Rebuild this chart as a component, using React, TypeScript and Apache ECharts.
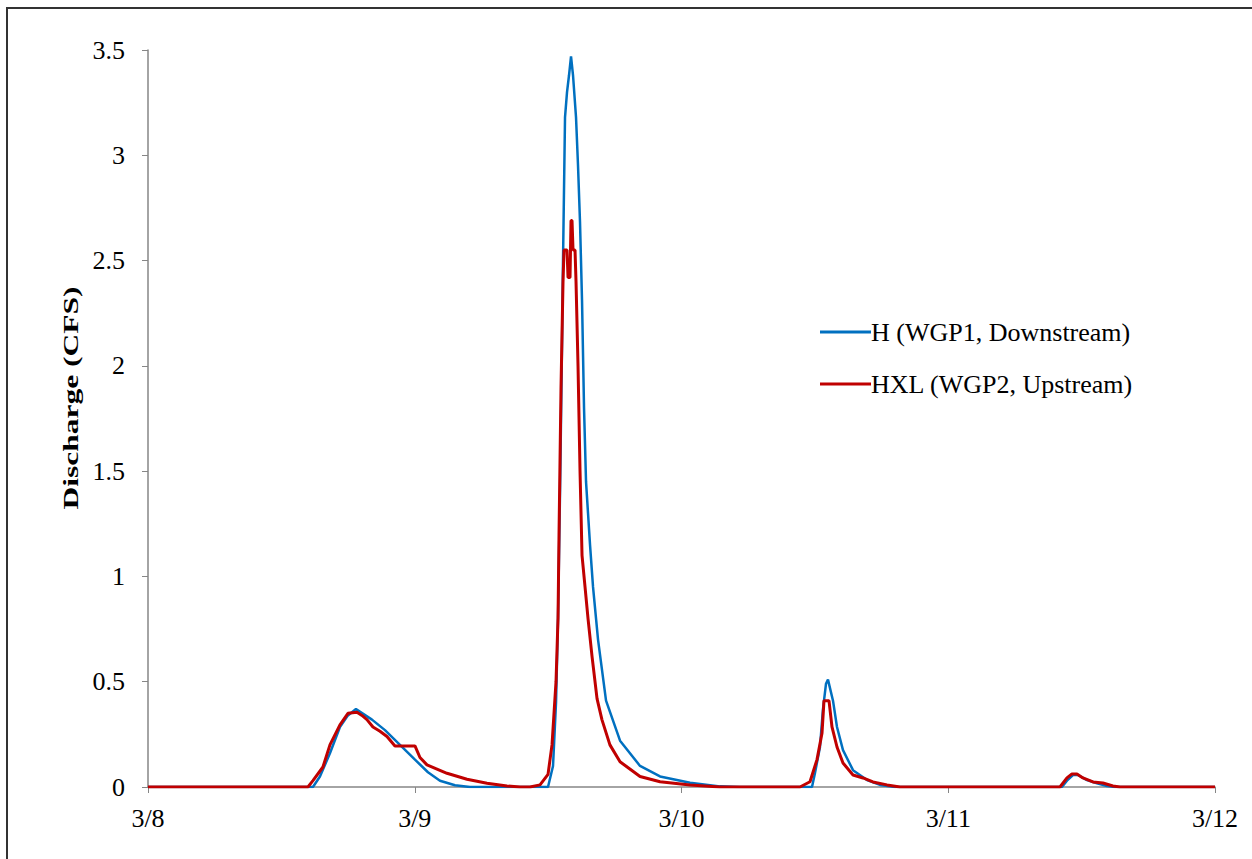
import React, { useEffect, useRef } from "react";
import * as echarts from "echarts";

// hours since 3/8 00:00
const X_TICK_LABELS = ["3/8", "3/9", "3/10", "3/11", "3/12"];
const SERIES_NAMES = ["H (WGP1, Downstream)", "HXL (WGP2, Upstream)"];
const Y_TITLE = "Discharge (CFS)";

const H_TIME = [0, 14.84, 15.47, 16.37, 17.27, 17.99, 18.71, 20.15, 21.32, 22.67, 24.02, 25.19, 26.27, 27.62, 28.97, 35.99, 36.44, 36.71, 36.89, 37.07, 37.25, 37.34, 37.52, 37.7, 37.88, 38.06, 38.24, 38.51, 38.69, 38.87, 39.05, 39.23, 39.41, 39.59, 39.77, 40.04, 40.49, 41.21, 42.47, 44.27, 46.07, 48.77, 51.47, 53.26, 59.74, 60.01, 60.46, 60.73, 61.0, 61.18, 61.63, 61.99, 62.53, 63.43, 64.69, 65.86, 67.21, 82.23, 82.68, 83.22, 83.67, 84.48, 85.38, 86.28, 87.0, 96];
const H_VALUE = [0, 0, 0.05, 0.16, 0.285, 0.34, 0.37, 0.32, 0.27, 0.2, 0.13, 0.07, 0.03, 0.008, 0, 0, 0.1, 0.4, 0.8, 1.4, 2.1, 2.5, 3.18, 3.3, 3.38, 3.47, 3.38, 3.18, 2.95, 2.68, 2.31, 1.8, 1.45, 1.3, 1.15, 0.95, 0.7, 0.41, 0.22, 0.1, 0.05, 0.02, 0.003, 0, 0, 0.067, 0.19, 0.37, 0.49, 0.51, 0.41, 0.285, 0.175, 0.08, 0.033, 0.01, 0, 0, 0.03, 0.057, 0.057, 0.033, 0.018, 0.005, 0, 0];

const HXL_TIME = [0, 14.39, 14.84, 15.74, 16.37, 17.27, 17.99, 18.8, 19.25, 19.7, 20.24, 20.87, 21.5, 22.22, 24.02, 24.47, 25.1, 26.9, 28.7, 30.5, 32.3, 33.47, 34.37, 35.27, 35.99, 36.35, 36.71, 36.89, 36.98, 37.16, 37.34, 37.43, 37.7, 37.79, 37.97, 38.06, 38.15, 38.24, 38.42, 38.51, 38.69, 38.87, 39.05, 39.32, 39.59, 39.95, 40.4, 40.84, 41.56, 42.47, 44.27, 46.07, 48.77, 51.47, 58.66, 59.56, 60.19, 60.64, 60.82, 61.27, 61.54, 61.99, 62.53, 63.43, 64.33, 65.23, 66.49, 67.66, 82.05, 82.68, 83.13, 83.58, 84.12, 85.02, 85.92, 86.82, 87.45, 96];
const HXL_VALUE = [0, 0, 0.03, 0.095, 0.2, 0.295, 0.35, 0.355, 0.34, 0.32, 0.285, 0.265, 0.24, 0.195, 0.195, 0.14, 0.105, 0.065, 0.037, 0.018, 0.005, 0, 0, 0.01, 0.06, 0.2, 0.5, 0.8, 1.2, 1.9, 2.4, 2.55, 2.55, 2.42, 2.42, 2.69, 2.69, 2.55, 2.55, 2.4, 2.0, 1.5, 1.1, 0.95, 0.8, 0.62, 0.42, 0.32, 0.2, 0.12, 0.05, 0.025, 0.01, 0, 0, 0.025, 0.13, 0.255, 0.41, 0.41, 0.285, 0.19, 0.114, 0.057, 0.043, 0.024, 0.01, 0, 0, 0.043, 0.062, 0.062, 0.043, 0.024, 0.019, 0.005, 0, 0];

const zip = (t: number[], v: number[]) => t.map((x, i) => [x, v[i]]);

export default function App() {
  const ref = useRef<HTMLDivElement>(null);
  useEffect(() => {
    if (!ref.current) return;
    const chart = echarts.init(ref.current, undefined, { renderer: "svg" });
    const font = "'Liberation Serif', 'Times New Roman', serif";
    chart.setOption({
      animation: false,
      backgroundColor: "#ffffff",
      textStyle: { fontFamily: font },
      grid: { left: 148, right: 37, top: 50, bottom: 72, containLabel: false },
      legend: {
        orient: "vertical",
        left: 815,
        top: 314,
        itemGap: 26,
        itemWidth: 51,
        itemHeight: 3,
        icon: "rect",
        textStyle: { fontFamily: font, fontSize: 26, color: "#000", padding: [0, 0, 0, -5] },
        data: SERIES_NAMES,
      },
      xAxis: {
        type: "value",
        min: 0,
        max: 96,
        interval: 24,
        axisLine: { show: true, lineStyle: { color: "#868686", width: 1.5 } },
        axisTick: { show: true, length: 6, lineStyle: { color: "#868686" } },
        splitLine: { show: false },
        axisLabel: {
          fontFamily: font,
          fontSize: 26,
          color: "#000",
          margin: 18,
          formatter: (v: number) => X_TICK_LABELS[Math.round(v / 24)] ?? "",
        },
      },
      yAxis: {
        type: "value",
        min: 0,
        max: 3.5,
        interval: 0.5,
        axisLine: { show: true, lineStyle: { color: "#868686", width: 1.5 } },
        axisTick: { show: true, length: 6, lineStyle: { color: "#868686" } },
        splitLine: { show: false },
        axisLabel: { fontFamily: font, fontSize: 26, color: "#000", margin: 23 },
      },
      graphic: [
        {
          type: "rect",
          shape: { x: 7, y: 8, width: 1400, height: 1000 },
          style: { fill: "none", stroke: "#333", lineWidth: 2 },
          silent: true,
        },
        {
          type: "text",
          x: 71,
          y: 398,
          rotation: Math.PI / 2,
          scaleX: 1.5,
          scaleY: 1,
          style: {
            text: Y_TITLE,
            fontFamily: font,
            fontSize: 21,
            fontWeight: "bold",
            fill: "#000",
            align: "center",
            verticalAlign: "middle",
          },
        },
      ],
      series: [
        {
          name: SERIES_NAMES[0],
          type: "line",
          data: zip(H_TIME, H_VALUE),
          showSymbol: false,
          symbol: "none",
          lineStyle: { color: "#0070C0", width: 2.5 },
          itemStyle: { color: "#0070C0" },
        },
        {
          name: SERIES_NAMES[1],
          type: "line",
          data: zip(HXL_TIME, HXL_VALUE),
          showSymbol: false,
          symbol: "none",
          lineStyle: { color: "#C00000", width: 3 },
          itemStyle: { color: "#C00000" },
        },
      ],
    });
    return () => chart.dispose();
  }, []);
  return (
    <div
      ref={ref}
      style={{ position: "absolute", left: 0, top: 0, width: 1252, height: 859 }}
    />
  );
}
